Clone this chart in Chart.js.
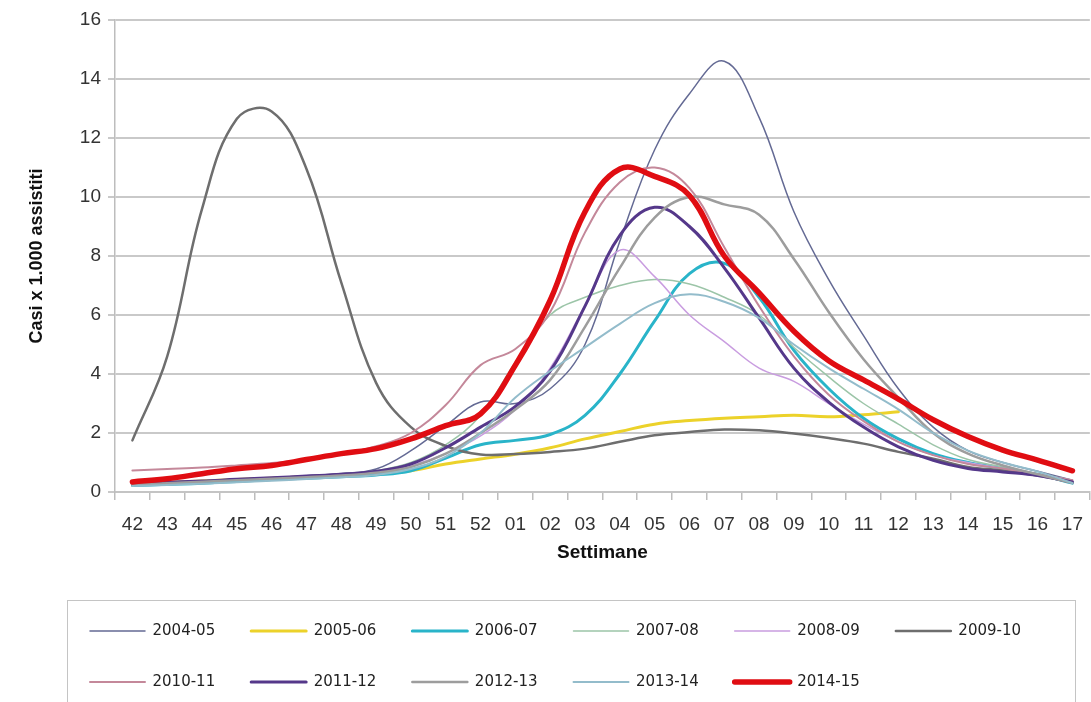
<!DOCTYPE html>
<html>
<head>
<meta charset="utf-8">
<script src="https://cdn.jsdelivr.net/npm/chart.js@4.4.1/dist/chart.umd.min.js"></script>
<style>
  html, body { margin: 0; padding: 0; background: #fff; overflow: hidden; }
  #wrap { width: 1096px; height: 702px; }
</style>
</head>
<body>
<div id="wrap"><canvas id="chart" width="1096" height="702"></canvas></div>
<script>
'use strict';

// weeks 42..52 then 01..17
const weeks = ['42', '43', '44', '45', '46', '47', '48', '49', '50', '51', '52',
    '01', '02', '03', '04', '05', '06', '07', '08', '09', '10', '11', '12', '13', '14', '15', '16', '17'];

const seasons = ['2004-05', '2005-06', '2006-07', '2007-08', '2008-09', '2009-10',
    '2010-11', '2011-12', '2012-13', '2013-14', '2014-15'];

const s0405 = [0.30, 0.32, 0.36, 0.42, 0.48, 0.55, 0.63, 0.78, 1.4, 2.25, 3.05, 3.0, 3.5, 5.0, 8.5, 11.6, 13.5, 14.6, 12.7, 9.5, 7.2, 5.3, 3.5, 2.2, 1.4, 1.0, 0.7, 0.4];
const s0506 = [0.28, 0.32, 0.37, 0.42, 0.47, 0.52, 0.57, 0.63, 0.72, 0.95, 1.12, 1.28, 1.5, 1.8, 2.05, 2.3, 2.42, 2.5, 2.55, 2.6, 2.55, 2.62, 2.72, null, null, null, null, null];
const s0607 = [0.22, 0.26, 0.3, 0.36, 0.42, 0.47, 0.52, 0.58, 0.72, 1.15, 1.6, 1.75, 1.95, 2.6, 4.0, 5.8, 7.4, 7.75, 6.6, 4.8, 3.5, 2.5, 1.8, 1.3, 1.0, 0.8, 0.6, 0.3];
const s0708 = [0.3, 0.34, 0.38, 0.43, 0.48, 0.53, 0.6, 0.72, 1.0, 1.6, 2.6, 4.4, 6.0, 6.6, 7.0, 7.2, 7.05, 6.6, 6.0, 4.9, 3.9, 3.0, 2.3, 1.6, 1.1, 0.85, 0.6, 0.4];
const s0809 = [0.28, 0.32, 0.36, 0.41, 0.46, 0.52, 0.58, 0.68, 0.9, 1.3, 1.9, 2.8, 4.2, 6.3, 8.2, 7.3, 6.0, 5.1, 4.2, 3.75, 3.0, 2.3, 1.7, 1.25, 1.0, 0.8, 0.6, 0.4];
const s0910 = [1.75, 4.6, 9.6, 12.65, 12.9, 10.95, 7.1, 3.7, 2.2, 1.56, 1.27, 1.29, 1.36, 1.47, 1.7, 1.92, 2.03, 2.12, 2.09, 1.98, 1.83, 1.64, 1.36, 1.13, 0.85, 0.73, 0.56, 0.34];
const s1011 = [0.73, 0.78, 0.83, 0.9, 0.98, 1.1, 1.28, 1.55, 2.0, 2.95, 4.3, 4.85, 6.1, 8.8, 10.5, 11.0, 10.3, 8.3, 6.3, 4.6, 3.3, 2.4, 1.7, 1.25, 0.95, 0.8, 0.6, 0.4];
const s1112 = [0.3, 0.33, 0.37, 0.43, 0.48, 0.54, 0.6, 0.7, 0.95, 1.5, 2.2, 2.9, 4.1, 6.3, 8.7, 9.65, 9.0, 7.6, 5.9, 4.2, 3.05, 2.2, 1.53, 1.07, 0.8, 0.68, 0.56, 0.34];
const s1213 = [0.25, 0.3, 0.35, 0.4, 0.45, 0.5, 0.56, 0.65, 0.85, 1.3, 2.0, 2.8, 3.8, 5.6, 7.6, 9.3, 10.0, 9.75, 9.4, 7.9, 6.1, 4.5, 3.2, 2.0, 1.3, 0.9, 0.6, 0.3];
const s1314 = [0.2, 0.24, 0.28, 0.33, 0.38, 0.44, 0.5, 0.58, 0.78, 1.2, 2.0, 3.2, 4.1, 4.9, 5.7, 6.4, 6.7, 6.45, 5.9, 5.0, 4.2, 3.5, 2.8, 2.0, 1.4, 1.0, 0.7, 0.3];
const s1415 = [0.34, 0.45, 0.62, 0.79, 0.9, 1.1, 1.3, 1.47, 1.8, 2.25, 2.65, 4.3, 6.5, 9.5, 10.95, 10.7, 10.05, 8.0, 6.75, 5.45, 4.45, 3.8, 3.15, 2.45, 1.88, 1.42, 1.08, 0.72];

const seriesValues = [s0405, s0506, s0607, s0708, s0809, s0910, s1011, s1112, s1213, s1314, s1415];

const colors = ['#646a94', '#ecd22a', '#29b4c9', '#9cc5a8', '#c99de0', '#6e6e6e',
    '#c4889a', '#55388a', '#9d9d9d', '#93bccb', '#e00d12'];
const widths = [1.5, 3, 3, 1.5, 1.5, 2.5, 2, 3, 2.5, 2, 5.5];

const yTicks = [0, 2, 4, 6, 8, 10, 12, 14, 16];

const FONT = 'Liberation Sans, Arial, sans-serif';

let datasets = seasons.map((name, i) => {
    return {
        label: name,
        data: seriesValues[i],
        borderColor: colors[i],
        backgroundColor: colors[i],
        borderWidth: widths[i],
        pointRadius: 0,
        tension: 0.4,
        fill: false,
        borderCapStyle: 'round',
        borderJoinStyle: 'round',
        // later seasons drawn on top
        order: seasons.length - i,
    };
});

// legend sits in a framed box like the spreadsheet original
let legendFrame = {
    id: 'legendFrame',
    afterLayout: (chart) => {
        chart.legend.left = 54;
    },
    afterDraw: (chart) => {
        let ctx = chart.ctx;
        ctx.save();
        ctx.strokeStyle = '#c4c4c4';
        ctx.lineWidth = 1;
        ctx.strokeRect(67.5, 600.5, 1008, 130);
        ctx.restore();
    }
};

new Chart(document.getElementById('chart'), {
    type: 'line',
    data: {
        labels: weeks,
        datasets: datasets,
    },
    plugins: [legendFrame],
    options: {
        responsive: false,
        animation: false,
        layout: {
            padding: {top: 20, right: 0, bottom: 2.5, left: 0}
        },
        plugins: {
            tooltip: {enabled: false},
            legend: {
                position: 'bottom',
                align: 'start',
                labels: {
                    boxWidth: 55,
                    boxHeight: 0,
                    padding: 36,
                    color: '#222',
                    font: {family: 'DejaVu Sans', size: 15},
                    sort: (a, b) => a.datasetIndex - b.datasetIndex,
                }
            }
        },
        scales: {
            x: {
                offset: true,
                afterFit: (scale) => { scale.height = 95.5; },
                grid: {
                    display: true,
                    drawOnChartArea: false,
                    drawTicks: true,
                    tickLength: 8,
                    offset: true,
                    color: '#bdbdbd',
                    lineWidth: 1.5,
                },
                border: {display: true, color: '#c4c4c4', width: 2},
                ticks: {
                    autoSkip: false,
                    maxRotation: 0,
                    padding: 13,
                    color: '#333',
                    font: {family: FONT, size: 19},
                },
                title: {
                    display: true,
                    text: 'Settimane',
                    color: '#111',
                    font: {family: FONT, size: 19, weight: 'bold'},
                    padding: {top: 4, bottom: 23},
                }
            },
            y: {
                min: 0,
                max: 16,
                afterFit: (scale) => { scale.width = 115; },
                afterBuildTicks: (scale) => {
                    scale.ticks = yTicks.map((v) => ({value: v}));
                },
                grid: {
                    color: '#c9c9c9',
                    lineWidth: 2,
                    drawTicks: true,
                    tickLength: 7,
                },
                border: {display: true, color: '#bdbdbd', width: 1.5},
                ticks: {
                    padding: 7,
                    color: '#333',
                    font: {family: FONT, size: 19},
                },
                title: {
                    display: true,
                    text: 'Casi x 1.000 assistiti',
                    color: '#111',
                    font: {family: FONT, size: 18, weight: 'bold'},
                    padding: {top: 26, bottom: 4},
                }
            }
        }
    }
});
</script>
</body>
</html>
